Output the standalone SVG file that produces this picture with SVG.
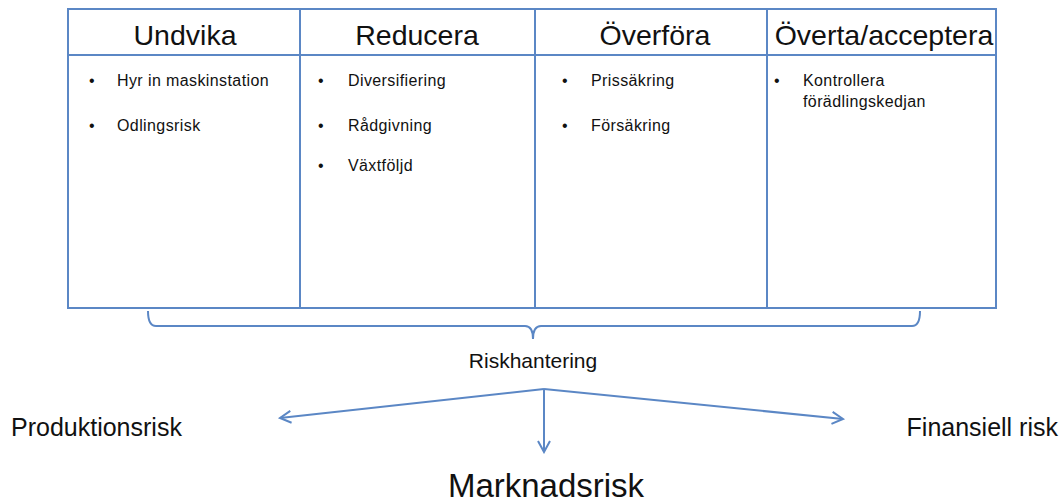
<svg xmlns="http://www.w3.org/2000/svg" width="1062" height="502" viewBox="0 0 1062 502">
<defs>
<style>
.ln{fill:none;stroke:#5b87c5;stroke-width:2}
.h{font-family:"Liberation Sans",Arial,sans-serif;font-size:28.5px;fill:#111;text-anchor:middle}
.b{font-family:"Liberation Sans",Arial,sans-serif;font-size:16px;letter-spacing:0.4px;fill:#111}
.l{font-family:"Liberation Sans",Arial,sans-serif;fill:#111}
</style>
<marker id="ah" viewBox="0 0 14 14" refX="12" refY="7" markerWidth="14" markerHeight="14" markerUnits="userSpaceOnUse" orient="auto">
<path d="M1,1 L12,7 L1,13" fill="none" stroke="#5b87c5" stroke-width="2"/>
</marker>
</defs>
<rect width="1062" height="502" fill="#fff"/>
<g id="table">
<rect class="ln" x="68" y="9" width="928" height="299"/>
<line class="ln" x1="68" y1="55" x2="996" y2="55"/>
<line class="ln" x1="300" y1="9" x2="300" y2="308"/>
<line class="ln" x1="535" y1="9" x2="535" y2="308"/>
<line class="ln" x1="767" y1="9" x2="767" y2="308"/>
</g>
<g id="col-undvika">
<text class="h" x="185" y="45">Undvika</text>
<text class="b" x="89" y="86">•</text><text class="b" x="117" y="86">Hyr in maskinstation</text>
<text class="b" x="89" y="131">•</text><text class="b" x="117" y="131">Odlingsrisk</text>
</g>
<g id="col-reducera">
<text class="h" x="417" y="45">Reducera</text>
<text class="b" x="318" y="86">•</text><text class="b" x="348" y="86">Diversifiering</text>
<text class="b" x="318" y="131">•</text><text class="b" x="348" y="131">Rådgivning</text>
<text class="b" x="318" y="171">•</text><text class="b" x="348" y="171">Växtföljd</text>
</g>
<g id="col-overfora">
<text class="h" x="655" y="45">Överföra</text>
<text class="b" x="562" y="86">•</text><text class="b" x="591" y="86">Prissäkring</text>
<text class="b" x="562" y="131">•</text><text class="b" x="591" y="131">Försäkring</text>
</g>
<g id="col-overta">
<text class="h" x="884" y="45">Överta/acceptera</text>
<text class="b" x="774" y="86">•</text><text class="b" x="803" y="86">Kontrollera</text>
<text class="b" x="803" y="107">förädlingskedjan</text>
</g>
<g id="brace">
<path class="ln" d="M148,311 Q148,326 156,326 L525,326 Q533,326 533,339 Q533,326 541,326 L912,326 Q920,326 920,311" stroke-width="1.5"/>
</g>
<g id="riskhantering"><text class="l" x="533" y="368" font-size="21" text-anchor="middle">Riskhantering</text></g>
<g id="connectors">
<line class="ln" x1="544" y1="389" x2="280" y2="418" marker-end="url(#ah)"/>
<line class="ln" x1="544" y1="389" x2="843" y2="419" marker-end="url(#ah)"/>
<line class="ln" x1="544" y1="389" x2="544" y2="452" marker-end="url(#ah)"/>
</g>
<g id="produktionsrisk"><text class="l" x="11" y="436" font-size="25">Produktionsrisk</text></g>
<g id="finansiell"><text class="l" x="1058" y="436" font-size="25" text-anchor="end">Finansiell risk</text></g>
<g id="marknadsrisk"><text class="l" x="546" y="497" font-size="33" text-anchor="middle">Marknadsrisk</text></g>
</svg>
